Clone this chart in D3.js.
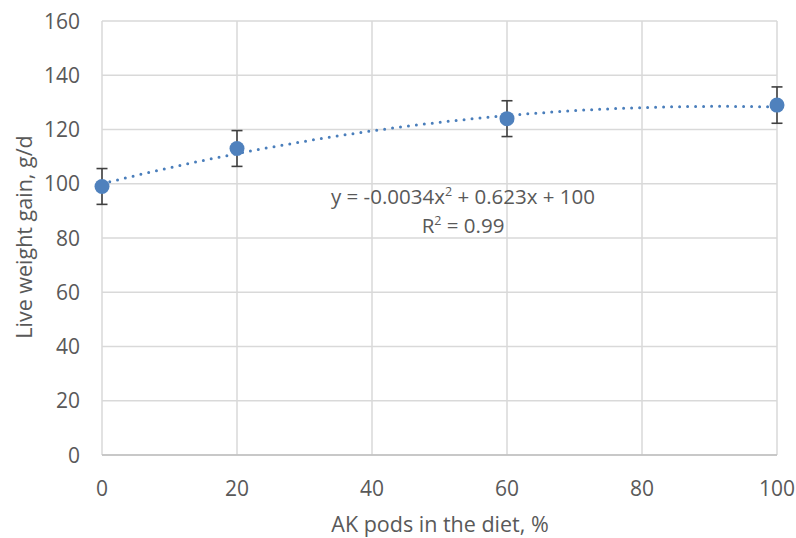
<!DOCTYPE html>
<html><head><meta charset="utf-8">
<script src="https://cdn.jsdelivr.net/npm/d3@7"></script>
<style>body{margin:0;background:#fff}svg{display:block}text{font-family:"Open Sans","Liberation Sans",sans-serif;fill:#595959}</style>
</head><body><svg id="c" width="796" height="538"></svg>
<script>
const xValues = [0, 20, 60, 100];
const yValues = [99, 113, 124, 129];
const yErrors = [6.6, 6.6, 6.6, 6.7];
const xTicks = [0, 20, 40, 60, 80, 100];
const yTicks = [0, 20, 40, 60, 80, 100, 120, 140, 160];
const trendCoef = [100, 0.623, -0.0034]; // c0 + c1 x + c2 x^2
const eqLabel = ["y = -0.0034x", "2", " + 0.623x + 100"];
const r2Label = ["R", "2", " = 0.99"];

const svg = d3.select("#c");
const x = d3.scaleLinear().domain([0, 100]).range([102, 777]);
const y = d3.scaleLinear().domain([0, 160]).range([455, 21]);
const grid = "#d9d9d9";

svg.append("g").selectAll("line").data(yTicks).join("line")
  .attr("x1", x(0)).attr("x2", x(100)).attr("y1", d => y(d)).attr("y2", d => y(d))
  .attr("stroke", grid).attr("stroke-width", 1.5);
svg.append("g").selectAll("line").data(xTicks).join("line")
  .attr("y1", y(0)).attr("y2", y(160)).attr("x1", d => x(d)).attr("x2", d => x(d))
  .attr("stroke", grid).attr("stroke-width", 1.5);
svg.append("line").attr("x1", x(0)).attr("x2", x(100)).attr("y1", y(0)).attr("y2", y(0))
  .attr("stroke", "#bfbfbf").attr("stroke-width", 1.5);

svg.append("g").selectAll("text").data(yTicks).join("text")
  .attr("x", 80).attr("y", d => y(d) + 7.5).attr("text-anchor", "end")
  .attr("font-size", 21).text(d => d);
svg.append("g").selectAll("text").data(xTicks).join("text")
  .attr("x", d => x(d)).attr("y", 496).attr("text-anchor", "middle")
  .attr("font-size", 21).text(d => d);

svg.append("text").attr("x", 440).attr("y", 532).attr("text-anchor", "middle")
  .attr("font-size", 21.5).text("AK pods in the diet, %");
svg.append("text").attr("transform", "translate(32,237) rotate(-90)").attr("text-anchor", "middle")
  .attr("font-size", 21.5).text("Live weight gain, g/d");

// trendline
const tx = d3.range(0, 100.01, 0.5);
const line = d3.line().x(d => x(d)).y(d => y(trendCoef[0] + trendCoef[1] * d + trendCoef[2] * d * d));
svg.append("path").datum(tx).attr("d", line).attr("fill", "none")
  .attr("stroke", "#4a7ebb").attr("stroke-width", 3).attr("stroke-dasharray", "0 8")
  .attr("stroke-linecap", "round");

// error bars
const eb = svg.append("g").attr("stroke", "#404040").attr("stroke-width", 1.6);
xValues.forEach((xv, i) => {
  const yv = yValues[i], e = yErrors[i];
  eb.append("line").attr("x1", x(xv)).attr("x2", x(xv)).attr("y1", y(yv + e)).attr("y2", y(yv - e));
  [yv + e, yv - e].forEach(v => eb.append("line").attr("x1", x(xv) - 5.5).attr("x2", x(xv) + 5.5)
    .attr("y1", y(v)).attr("y2", y(v)));
});

svg.append("g").selectAll("circle").data(xValues).join("circle")
  .attr("cx", d => x(d)).attr("cy", (d, i) => y(yValues[i])).attr("r", 7.5)
  .attr("fill", "#4f81bd");

function supText(lbl, cx, cy) {
  const t = svg.append("text").attr("x", cx).attr("y", cy).attr("text-anchor", "middle").attr("font-size", 20.5);
  t.append("tspan").text(lbl[0]);
  t.append("tspan").attr("font-size", 12.5).attr("dy", -8).text(lbl[1]);
  t.append("tspan").attr("dy", 8).text(lbl[2]);
}
supText(eqLabel, 463, 204);
supText(r2Label, 463, 233);
</script></body></html>
